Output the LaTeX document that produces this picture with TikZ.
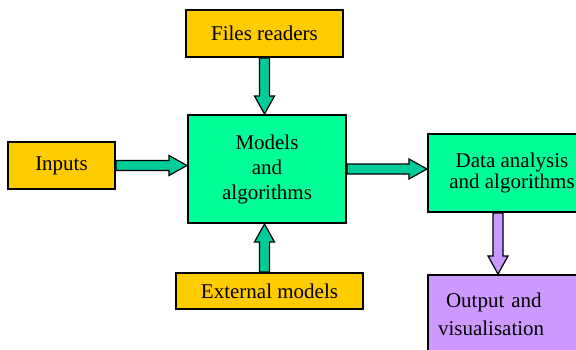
\documentclass[tikz,border=0pt]{standalone}
\usepackage{fontspec}
\setmainfont{Liberation Serif}
\usetikzlibrary{calc}

\definecolor{boxyellow}{HTML}{FFCC00}
\definecolor{boxgreen}{HTML}{00FF99}
\definecolor{arrowteal}{HTML}{00CC99}
\definecolor{boxpurple}{HTML}{CC99FF}

\tikzset{
    box/.style={draw=black, line width=2pt, inner sep=0pt, align=center,
        font=\fontsize{21}{25}\selectfont},
    yellowbox/.style={box, fill=boxyellow},
    greenbox/.style={box, fill=boxgreen},
    purplebox/.style={box, fill=boxpurple},
}

% block arrow from #2 to #3
\newcommand{\fatarrow}[3][arrowteal]{%
    \path (#2) coordinate (fa-s) (#3) coordinate (fa-e)
        ($(fa-e)!18pt!(fa-s)$) coordinate (fa-h);
    \filldraw[fill=#1, draw=black, line width=1.2pt]
        ($(fa-s)!5pt!90:(fa-e)$) -- ($(fa-h)!5pt!90:(fa-e)$) -- ($(fa-h)!10pt!90:(fa-e)$)
        -- (fa-e) -- ($(fa-h)!10pt!-90:(fa-e)$) -- ($(fa-h)!5pt!-90:(fa-e)$)
        -- ($(fa-s)!5pt!-90:(fa-e)$) -- cycle;
}

\begin{document}
\begin{tikzpicture}[x=1pt, y=-1pt]
        \useasboundingbox (0,0) rectangle (576,349);
        \clip (0,0) rectangle (576,349);

        \node[yellowbox, minimum width=157pt, minimum height=47pt] (files) at (264.5,33.5) {Files readers};
        \node[yellowbox, minimum width=107pt, minimum height=47pt] (inputs) at (61.5,165.5) {Inputs};
        \node[greenbox, minimum width=158pt, minimum height=108pt] (models) at (267,169) {Models\\and\\algorithms};
        \node[greenbox, minimum width=168pt, minimum height=78pt, anchor=north west,
            font=\fontsize{21}{21}\selectfont] (data) at (427,133) {Data analysis\\and algorithms};
        \node[yellowbox, minimum width=187pt, minimum height=36pt] (external) at (269.5,291) {External models};
        \node[purplebox, anchor=north west, text width=148pt, inner xsep=10pt, minimum height=78pt,
            align=left, font=\fontsize{21}{28}\selectfont] (output) at (427,274) {\hspace*{8pt}Output and\\visualisation};

        \fatarrow{files.south}{files.south |- models.north}
        \fatarrow{inputs.east}{inputs.east -| models.west}
        \fatarrow{models.east}{models.east -| data.west}
        \fatarrow{files.south |- external.north}{files.south |- models.south}
        \coordinate (dataout) at ($(data.south west)+(71,0)$);
        \fatarrow[boxpurple]{dataout}{dataout |- output.north}
\end{tikzpicture}
\end{document}
